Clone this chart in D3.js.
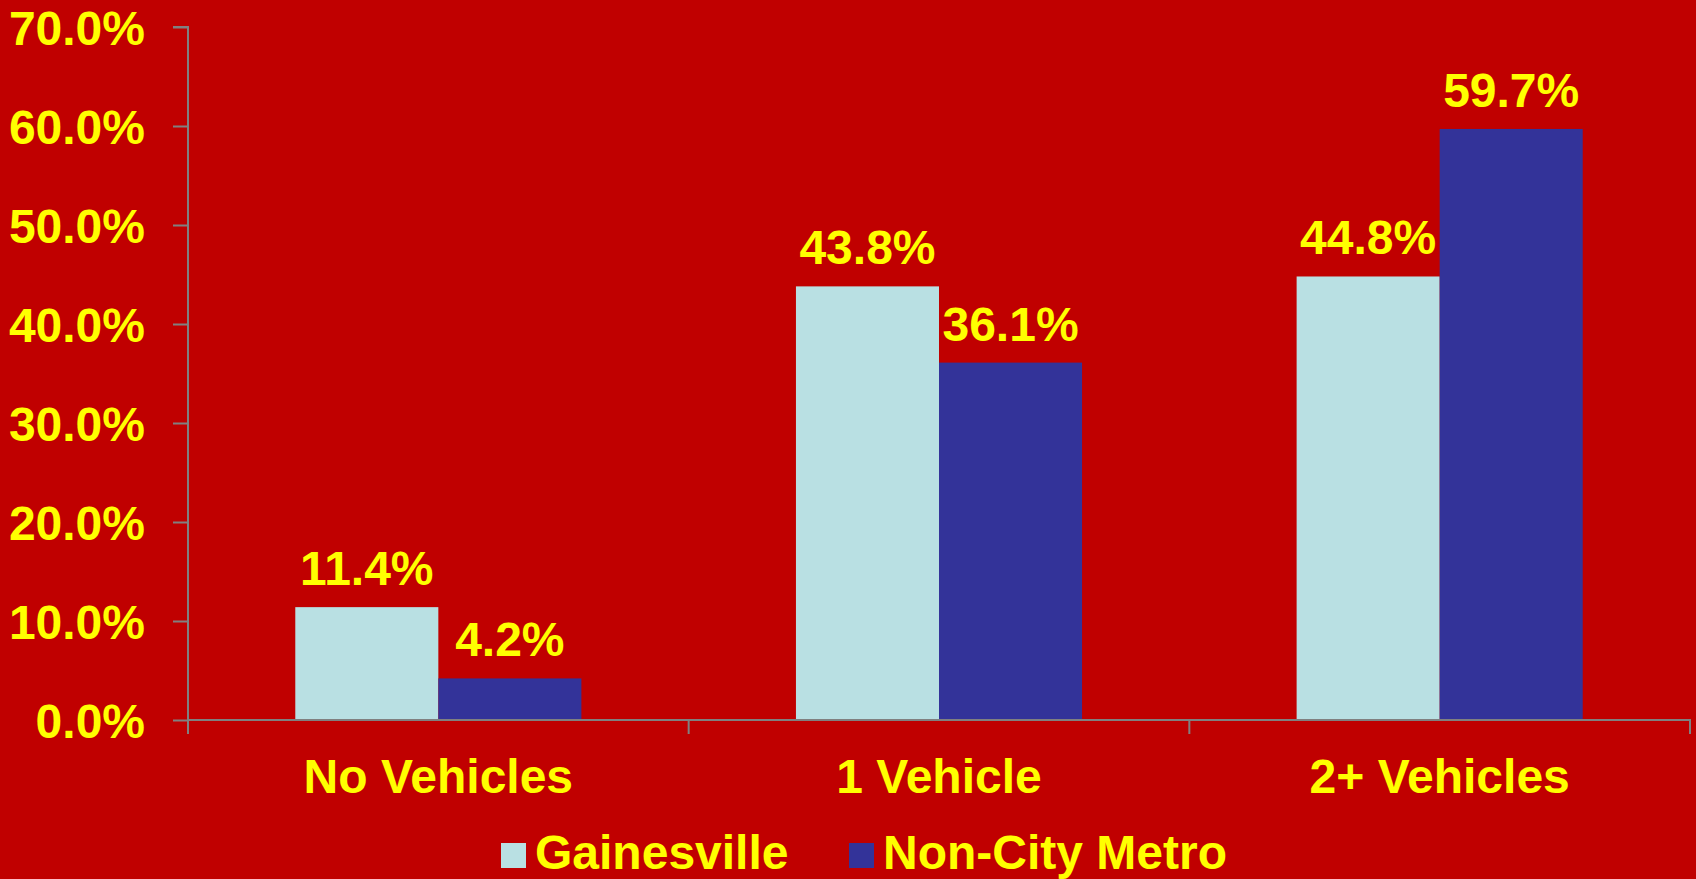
<!DOCTYPE html>
<html>
<head>
<meta charset="utf-8">
<script src="https://cdn.jsdelivr.net/npm/d3@7"></script>
<style>
  html, body { margin: 0; padding: 0; background: #C00000; }
  svg { display: block; }
  text { font-family: "Liberation Sans", Arial, sans-serif; font-weight: bold; fill: #FFFF00; }
</style>
</head>
<body>
<svg id="chart" width="1696" height="879"></svg>
<script>
// Household vehicle availability, share of households
const categories = ["No Vehicles", "1 Vehicle", "2+ Vehicles"];
const seriesNames = ["Gainesville", "Non-City Metro"];
const gainesville = [11.4, 43.8, 44.8];
const nonCityMetro = [4.2, 36.1, 59.7];
const yTicks = [0, 10, 20, 30, 40, 50, 60, 70];
const colors = ["#B9E0E3", "#333399"];

const svg = d3.select("#chart");
const W = 1696, H = 879;
const plot = { left: 188, right: 1690, top: 27, bottom: 720 };
const FONT = 48;

svg.append("rect").attr("width", W).attr("height", H).attr("fill", "#C00000");

const x = d3.scaleBand().domain(categories).range([plot.left, plot.right]);
const y = d3.scaleLinear().domain([0, 70]).range([plot.bottom, plot.top]);
// groups take 1/(1+0.75) of each band (75% gap)
const groupW = x.bandwidth() / 1.75;
const xs = d3.scaleBand().domain(seriesNames).range([0, groupW]);

const series = [gainesville, nonCityMetro];
const rows = categories.map((c, i) => ({ cat: c, vals: series.map((s, k) => ({ name: seriesNames[k], k, v: s[i] })) }));

// bars
const g = svg.append("g");
const grp = g.selectAll("g.cat").data(rows).join("g")
  .attr("transform", d => `translate(${x(d.cat) + (x.bandwidth() - groupW) / 2},0)`);
grp.selectAll("rect").data(d => d.vals).join("rect")
  .attr("x", d => xs(d.name))
  .attr("width", xs.bandwidth())
  .attr("y", d => y(d.v))
  .attr("height", d => y(0) - y(d.v))
  .attr("fill", d => colors[d.k]);
grp.selectAll("text").data(d => d.vals).join("text")
  .attr("x", d => xs(d.name) + xs.bandwidth() / 2)
  .attr("y", d => y(d.v) - 22)
  .attr("text-anchor", "middle")
  .attr("font-size", FONT)
  .text(d => d.v.toFixed(1) + "%");

// y axis
const yAxis = svg.append("g").attr("transform", `translate(${plot.left},0)`)
  .call(d3.axisLeft(y).tickValues(yTicks).tickSize(15).tickPadding(28).tickFormat(d => d.toFixed(1) + "%"));
yAxis.select(".domain").attr("stroke", "#808080").attr("stroke-width", 2).attr("d", `M-15,${plot.top}H0V${plot.bottom}`);
yAxis.selectAll(".tick line").attr("stroke", "#808080").attr("stroke-width", 2);
yAxis.selectAll(".tick text").attr("font-size", FONT).attr("dy", "0.36em").style("fill", "#FFFF00");

// x axis
const xAxis = svg.append("g").attr("transform", `translate(0,${plot.bottom})`)
  .call(d3.axisBottom(x).tickSize(0).tickPadding(0));
xAxis.select(".domain").attr("stroke", "#808080").attr("stroke-width", 2).attr("d", `M${plot.left},0H${plot.right}V14`);
xAxis.selectAll(".tick text").attr("font-size", FONT).attr("y", 73).attr("dy", 0).style("fill", "#FFFF00");
// category separators
const seps = categories.map(c => x(c));
xAxis.selectAll("line.sep").data(seps).join("line").attr("class", "sep")
  .attr("x1", d => d).attr("x2", d => d).attr("y1", 0).attr("y2", 14)
  .attr("stroke", "#808080").attr("stroke-width", 2);

// legend
const legendItems = [
  { name: seriesNames[0], color: colors[0], x: 501 },
  { name: seriesNames[1], color: colors[1], x: 849 }
];
const lg = svg.append("g");
legendItems.forEach(it => {
  lg.append("rect").attr("x", it.x).attr("y", 843).attr("width", 25).attr("height", 25).attr("fill", it.color);
  lg.append("text").attr("x", it.x + 34).attr("y", 869).attr("font-size", FONT).text(it.name);
});
</script>
</body>
</html>
